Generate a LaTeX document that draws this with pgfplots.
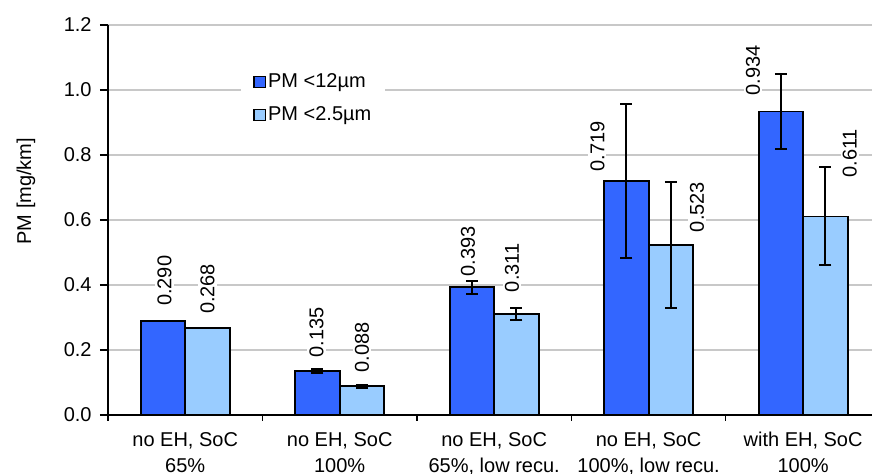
\documentclass[border=0pt]{standalone}
\usepackage{fontspec}
\setmainfont{Liberation Sans}
\usepackage{pgfplots}
\usepackage{pgfplotstable}
\pgfplotsset{compat=1.18}

\definecolor{pmdark}{HTML}{3366FF}
\definecolor{pmlight}{HTML}{99CCFF}
\definecolor{gridgray}{HTML}{C8C8C8}

% x = category index, err = half length of error bar, dx/dy = label offsets (pt)
\pgfplotstableread{
x y err dx dy
0 0.290 0.000 0.75 6
1 0.135 0.005 -0.5 5.5
2 0.393 0.020 -2 4
3 0.719 0.237 -14.5 3.5
4 0.934 0.115 -14 6.5
}\pmten
\pgfplotstableread{
x y err dx dy
0 0.268 0.000 0 5.5
1 0.088 0.005 0 5.5
2 0.311 0.019 -2.25 9.5
3 0.523 0.193 13 5
4 0.611 0.151 12.25 18
}\pmtwo

\begin{document}
\fontsize{10}{13}\selectfont
\begin{tikzpicture}
\begin{axis}[
    at={(54pt,29.5pt)}, anchor=south west,
    scale only axis,
    width=382pt, height=195pt,
    ymin=0, ymax=1.2,
    xmin=-0.5, xmax=4.446,
    ybar=0pt,
    bar width=0.288,
    axis x line*=bottom,
    axis y line*=left,
    axis line style={black, line width=0.6pt},
    tick align=outside,
    tick style={black, line width=0.6pt},
    major tick length=4pt,
    minor tick length=3pt,
    ytick={0,0.2,0.4,0.6,0.8,1.0,1.2},
    yticklabel={\pgfmathprintnumber[fixed,fixed zerofill,precision=1,assume math mode=true]{\tick}},
    yticklabel style={anchor=east, inner sep=0pt, xshift=-4pt},
    ymajorgrids,
    grid style={gridgray, line width=0.6pt},
    xtick={0,1,2,3,4},
    major x tick style={draw=none},
    minor xtick={-0.5,0.5,1.5,2.5,3.5},
    xticklabels={{no EH, SoC\\65\%}, {no EH, SoC\\100\%}, {no EH, SoC\\65\%, low recu.}, {no EH, SoC\\100\%, low recu.}, {with EH, SoC\\100\%}},
    xticklabel style={align=center, anchor=north, inner sep=0pt, yshift=-4.5pt, font=\fontsize{10}{13}\selectfont},
    every axis y label/.style={at={(axis description cs:-0.1073,0.574)}, rotate=90, anchor=center},
    ylabel={PM [mg/km]},
    legend style={at={(0.174,0.8115)}, anchor=west, draw=none, fill=white,
        inner xsep=6pt, inner ysep=4pt, row sep=5.3pt,
        nodes={inner sep=1pt, text height=7.2pt, text depth=2pt}},
    legend cell align=left,
    legend image code/.code={\draw[#1, draw=black, line width=0.8pt] (0pt,-2.8pt) rectangle (5.6pt,2.8pt);},
    visualization depends on=\thisrow{dx} \as \dx,
    visualization depends on=\thisrow{dy} \as \dy,
    nodes near coords={\pgfmathprintnumber[fixed,fixed zerofill,precision=3,assume math mode=true]{\pgfplotspointmeta}},
    every node near coord/.append style={xshift=\dx pt, yshift=\dy pt, rotate=90, anchor=west, fill=white, text=black, inner sep=1pt},
]
\addplot[fill=pmdark, draw=black, line width=0.9pt,
    error bars/.cd, y dir=both, y explicit,
    error bar style={black, line width=1pt},
    error mark options={rotate=90, black, mark size=3pt, line width=1pt}]
    table[x=x, y=y, y error=err] {\pmten};
\addplot[fill=pmlight, draw=black, line width=0.9pt,
    error bars/.cd, y dir=both, y explicit,
    error bar style={black, line width=1pt},
    error mark options={rotate=90, black, mark size=3pt, line width=1pt}]
    table[x=x, y=y, y error=err] {\pmtwo};
\legend{PM <12µm, PM <2.5µm}
\end{axis}
\pgfresetboundingbox
\useasboundingbox (0,0) rectangle (436pt,237pt);
\end{tikzpicture}
\end{document}
